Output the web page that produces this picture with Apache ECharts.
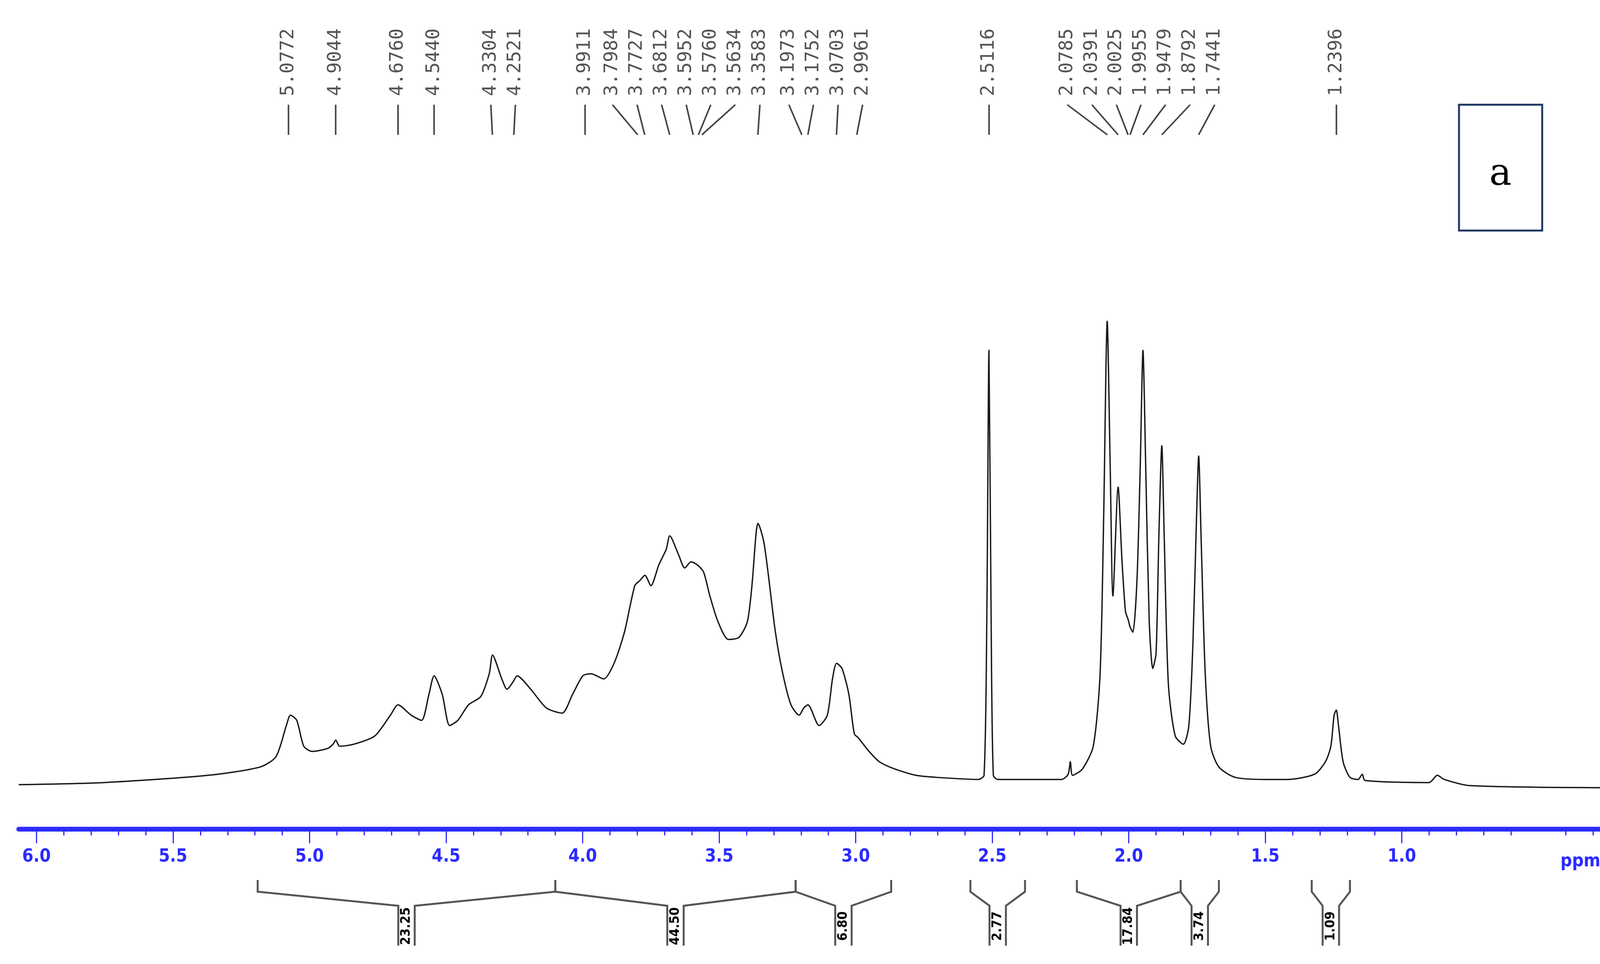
<!DOCTYPE html>
<html>
<head>
<meta charset="utf-8">
<script src="https://cdn.jsdelivr.net/npm/echarts@6/dist/echarts.min.js"></script>
<style>html,body{margin:0;padding:0;background:#fff}#chart{width:4152px;height:2467px}</style>
</head>
<body>
<div id="chart"></div>
<script>
// spectrum trace: [ppm, y in its own pixel rows]
var spectrum = [
  [6.065,757],[5.752,755],[5.371,748],[5.181,740],[5.123,730],[5.085,700],[5.070,690],[5.047,695],[5.021,720],
  [4.990,725],[4.933,722],[4.914,718],[4.904,714],[4.890,720],[4.838,718],[4.761,710],[4.704,690],[4.676,680],
  [4.628,690],[4.590,695],[4.563,670],[4.544,652],[4.514,670],[4.487,700],[4.457,695],[4.418,680],[4.373,672],
  [4.342,650],[4.330,632],[4.296,655],[4.277,665],[4.255,658],[4.240,652],[4.190,665],[4.133,683],[4.075,688],
  [4.037,670],[3.999,652],[3.969,650],[3.923,655],[3.885,640],[3.847,610],[3.809,565],[3.790,560],[3.772,555],
  [3.750,565],[3.721,545],[3.694,530],[3.681,517],[3.649,535],[3.626,548],[3.603,542],[3.580,545],[3.557,552],
  [3.534,575],[3.504,600],[3.466,617],[3.428,615],[3.397,600],[3.380,565],[3.365,515],[3.358,505],[3.335,525],
  [3.294,610],[3.267,650],[3.237,680],[3.207,690],[3.190,683],[3.175,680],[3.134,700],[3.104,690],[3.085,655],
  [3.070,640],[3.050,645],[3.025,670],[3.005,708],[2.990,712],[2.975,717],[2.951,725],[2.913,735],[2.856,742],
  [2.780,748],[2.704,750],[2.551,752],[2.530,748],[2.520,600],[2.512,338],[2.504,600],[2.496,748],[2.480,752],
  [2.437,752],[2.246,752],[2.222,747],[2.214,735],[2.206,748],[2.170,742],[2.130,720],[2.105,650],[2.092,500],
  [2.079,310],[2.068,450],[2.058,575],[2.039,470],[2.025,540],[2.012,590],[2.002,598],[1.995,605],[1.985,610],
  [1.970,560],[1.958,450],[1.948,338],[1.938,450],[1.925,600],[1.912,645],[1.900,630],[1.890,520],[1.879,430],
  [1.870,520],[1.855,660],[1.830,710],[1.800,718],[1.780,700],[1.765,620],[1.752,500],[1.744,440],[1.735,520],
  [1.720,650],[1.700,720],[1.670,740],[1.610,750],[1.500,752],[1.420,752],[1.320,747],[1.280,735],[1.260,720],
  [1.248,690],[1.240,685],[1.232,700],[1.215,735],[1.190,750],[1.160,752],[1.145,747],[1.135,753],[0.900,755],
  [0.870,748],[0.845,752],[0.750,758],[0.250,760]
];
var baselineRow = 757;

var peakLabels = [5.0772,4.9044,4.6760,4.5440,4.3304,4.2521,3.9911,3.7984,3.7727,3.6812,3.5952,3.5760,
  3.5634,3.3583,3.1973,3.1752,3.0703,2.9961,2.5116,2.0785,2.0391,2.0025,1.9955,1.9479,1.8792,1.7441,1.2396];

var integrals = [
  [5.19,4.10,23.25],[4.10,3.22,44.50],[3.22,2.87,6.80],[2.58,2.38,2.77],
  [2.19,1.81,17.84],[1.81,1.67,3.74],[1.33,1.19,1.09]
];

var majorTicks = [1.0,1.5,2.0,2.5,3.0,3.5,4.0,4.5,5.0,5.5,6.0];
var minorTicks = [];
for (var t = 3; t <= 60; t++) if (t % 5 !== 0) minorTicks.push(t / 10);

var lineData = spectrum.map(function (p) { return [p[0], baselineRow - p[1]]; });

// spread the peak labels so they don't overlap
function spreadSlots(vals, gap) {
  var s = vals.slice();
  for (var k = 0; k < 400; k++) {
    for (var i = 0; i < s.length - 1; i++) {
      var g = s[i] - s[i + 1];
      if (g < gap) { var d = (gap - g) / 2; s[i] += d; s[i + 1] -= d; }
    }
  }
  return s;
}
var slots = spreadSlots(peakLabels, 0.09);
var peakData = peakLabels.map(function (v, i) { return [v, slots[i]]; });

var blue = '#2b2bff';
var chart = echarts.init(document.getElementById('chart'));
chart.setOption({
  animation: false,
  backgroundColor: '#fff',
  grid: { left: 48, right: 39, top: 0, bottom: 345 },
  xAxis: [{
    type: 'value', min: 0.25, max: 6.065, inverse: true,
    axisLine: { onZero: false, lineStyle: { color: blue, width: 12, shadowColor: 'rgba(80,80,255,0.25)', shadowBlur: 10 } },
    axisTick: { customValues: majorTicks, length: 36, lineStyle: { color: blue, width: 3 } },
    axisLabel: { customValues: majorTicks, color: blue, fontSize: 46, fontWeight: 'bold',
      fontFamily: 'DejaVu Sans Condensed', margin: 48,
      formatter: function (v) { return v.toFixed(1); } },
    splitLine: { show: false }
  }, {
    type: 'value', min: 0.25, max: 6.065, inverse: true, position: 'bottom', offset: 0,
    axisLine: { show: false, onZero: false },
    axisTick: { customValues: minorTicks, length: 16, lineStyle: { color: blue, width: 3 } },
    axisLabel: { show: false }, splitLine: { show: false }
  }],
  yAxis: { type: 'value', min: -43, max: 757, show: false },
  graphic: [
    { type: 'text', x: 4046, y: 2205, style: { text: 'ppm', fill: blue, font: 'bold 46px "DejaVu Sans Condensed"', align: 'center', verticalAlign: 'middle' } },
    { type: 'rect', shape: { x: 3735, y: 268, width: 213, height: 322 }, style: { fill: 'none', stroke: '#1f3864', lineWidth: 5 } },
    { type: 'text', x: 3841, y: 448, style: { text: 'a', fill: '#000', font: '96px "DejaVu Serif"', align: 'center', verticalAlign: 'middle' } }
  ],
  series: [{
    type: 'line', data: lineData, showSymbol: false, symbol: 'none', smooth: 0.25,
    lineStyle: { color: '#1a1a1a', width: 3.5 }
  }, {
    type: 'custom', data: peakData, clip: false, silent: true,
    renderItem: function (params, api) {
      var x = api.coord([api.value(0), 0])[0];
      var sx = api.coord([api.value(1), 0])[0];
      return { type: 'group', children: [
        { type: 'text', x: sx, y: 246, rotation: Math.PI / 2,
          style: { text: api.value(0).toFixed(4), fill: '#555', font: '48px "DejaVu Sans Mono"', align: 'left', verticalAlign: 'middle' } },
        { type: 'line', shape: { x1: sx, y1: 268, x2: x, y2: 345 }, style: { stroke: '#444', lineWidth: 4 } }
      ] };
    }
  }, {
    type: 'custom', data: integrals, clip: false, silent: true,
    renderItem: function (params, api) {
      var x1 = api.coord([api.value(0), 0])[0];
      var x2 = api.coord([api.value(1), 0])[0];
      var cx = (x1 + x2) / 2, w = 21;
      var pts = [[x1, 2252], [x1, 2282], [cx - w, 2318], [cx - w, 2420]];
      var pts2 = [[x2, 2252], [x2, 2282], [cx + w, 2318], [cx + w, 2420]];
      return { type: 'group', children: [
        { type: 'polyline', shape: { points: pts }, style: { stroke: '#555', lineWidth: 5, fill: 'none' } },
        { type: 'polyline', shape: { points: pts2 }, style: { stroke: '#555', lineWidth: 5, fill: 'none' } },
        { type: 'text', x: cx, y: 2370, rotation: Math.PI / 2,
          style: { text: api.value(2).toFixed(2), fill: '#000', font: 'bold 34px "DejaVu Sans Condensed"', align: 'center', verticalAlign: 'middle' } }
      ] };
    }
  }]
});
</script>
</body>
</html>
